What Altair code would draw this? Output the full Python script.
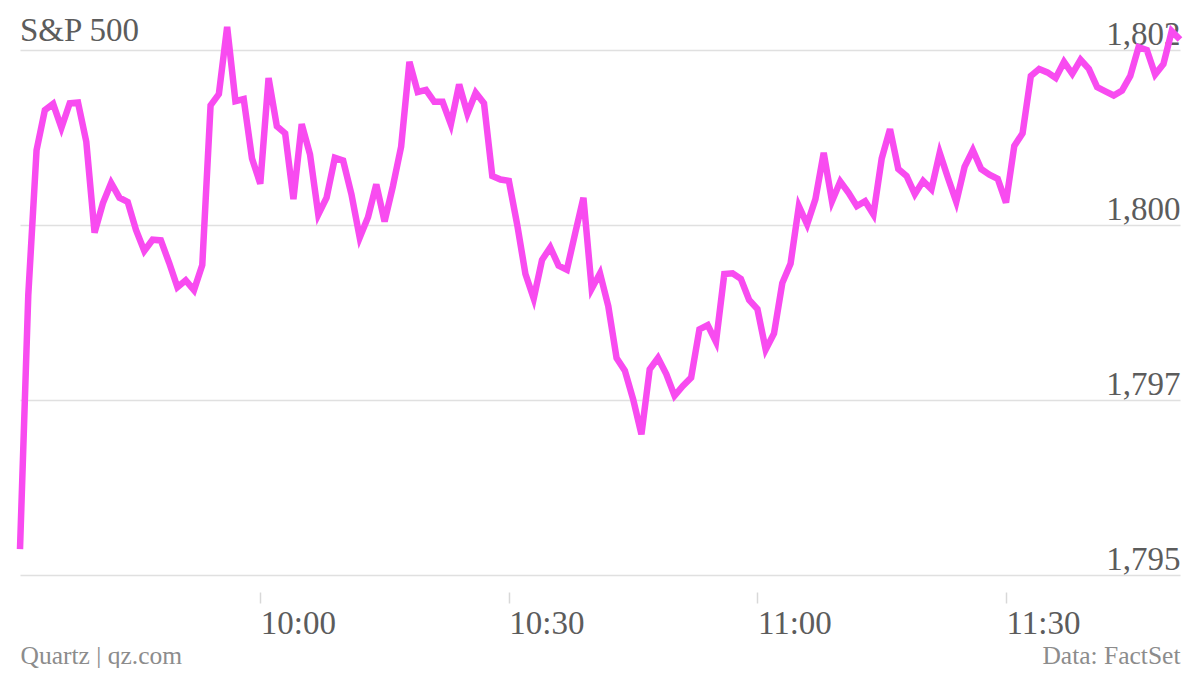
import altair as alt
import pandas as pd

# S&P 500 intraday values, one per minute from 09:31 to 11:51
values = [
    1795.37, 1799.00, 1801.07, 1801.64, 1801.73, 1801.39, 1801.74, 1801.75, 1801.19, 1799.89,
    1800.31, 1800.60, 1800.39, 1800.33, 1799.93, 1799.63, 1799.79, 1799.78, 1799.46, 1799.11,
    1799.21, 1799.07, 1799.43, 1801.71, 1801.87, 1802.83, 1801.77, 1801.80, 1800.95, 1800.59,
    1802.10, 1801.41, 1801.31, 1800.37, 1801.44, 1801.01, 1800.15, 1800.39, 1800.96, 1800.92,
    1800.44, 1799.82, 1800.11, 1800.58, 1800.05, 1800.55, 1801.12, 1802.33, 1801.90, 1801.93,
    1801.76, 1801.76, 1801.44, 1802.01, 1801.59, 1801.89, 1801.74, 1800.70, 1800.65, 1800.63,
    1800.01, 1799.30, 1798.95, 1799.50, 1799.68, 1799.42, 1799.36, 1799.88, 1800.39, 1799.09,
    1799.31, 1798.84, 1798.10, 1797.92, 1797.51, 1797.01, 1797.94, 1798.10, 1797.87, 1797.56,
    1797.70, 1797.82, 1798.51, 1798.57, 1798.33, 1799.30, 1799.31, 1799.23, 1798.93, 1798.80,
    1798.22, 1798.45, 1799.17, 1799.45, 1800.27, 1800.01, 1800.37, 1801.03, 1800.34, 1800.62,
    1800.46, 1800.27, 1800.34, 1800.15, 1800.95, 1801.37, 1800.80, 1800.70, 1800.44, 1800.63,
    1800.51, 1801.03, 1800.67, 1800.33, 1800.83, 1801.07, 1800.80, 1800.72, 1800.66, 1800.32,
    1801.13, 1801.31, 1802.13, 1802.23, 1802.18, 1802.10, 1802.33, 1802.16, 1802.36, 1802.23,
    1801.97, 1801.91, 1801.85, 1801.92, 1802.13, 1802.54, 1802.50, 1802.15, 1802.30, 1802.77,
    1802.65,
]
start_time = "2013-11-25 09:31"
times = pd.date_range(start_time, periods=len(values), freq="min").strftime("%Y-%m-%dT%H:%M:00Z")

y_ticks = [1795, 1797.5, 1800, 1802.5]
x_ticks = [(10, 0), (10, 30), (11, 0), (11, 30)]
x_domain = [(9, 31), (11, 51)]

df = pd.DataFrame({"time": list(times), "value": values})


def dt(h, m):
    return alt.DateTime(year=2013, month=11, date=25, hours=h, minutes=m, utc=True)


FONT = "Liberation Serif"
LABEL = "#5c5c5c"
FOOT = "#8c8c8c"
GRID = "#e0e0e0"

chart = (
    alt.Chart(df)
    .mark_line(color="#f84bf0", strokeWidth=6.5)
    .encode(
        x=alt.X(
            "time:T",
            scale=alt.Scale(type="utc", domain=[dt(*x_domain[0]), dt(*x_domain[1])], nice=False),
            axis=alt.Axis(
                values=[dt(h, m) for h, m in x_ticks],
                labelExpr="utcFormat(datum.value, '%H:%M')",
                title="Data: FactSet",
                titleX=1160,
                titleY=71,
                titleAlign="right",
                titleBaseline="alphabetic",
                titleFont=FONT,
                titleFontSize=25.5,
                titleFontWeight="normal",
                titleColor=FOOT,
                grid=False,
                domain=False,
                ticks=True,
                tickSize=11,
                tickWidth=1.5,
                tickColor="#d8d8d8",
                offset=17,
                labelAlign="left",
                labelBaseline="alphabetic",
                labelPadding=30,
                labelFlush=False,
                labelFont=FONT,
                labelFontSize=33,
                labelColor=LABEL,
            ),
        ),
        y=alt.Y(
            "value:Q",
            scale=alt.Scale(domain=[1795, 1802.5], nice=False, zero=False),
            axis=alt.Axis(
                orient="right",
                values=y_ticks,
                labelExpr="format(floor(datum.value), ',')",
                title="Quartz | qz.com",
                titleAngle=0,
                titleX=-1160,
                titleY=613,
                titleAlign="left",
                titleBaseline="alphabetic",
                titleFont=FONT,
                titleFontSize=25.5,
                titleFontWeight="normal",
                titleColor=FOOT,
                grid=True,
                gridColor=GRID,
                gridWidth=1.5,
                domain=False,
                ticks=False,
                tickSize=0,
                labelAlign="right",
                labelBaseline="alphabetic",
                labelPadding=0,
                labelOffset=-6,
                labelFont=FONT,
                labelFontSize=33,
                labelColor=LABEL,
            ),
        ),
    )
    .properties(
        width=1160,
        height=525,
        padding={"left": 12, "top": 42, "right": 12, "bottom": 93},
        autosize=alt.AutoSizeParams(type="none"),
        title=alt.TitleParams(
            "S&P 500",
            anchor="start",
            frame="group",
            font=FONT,
            fontSize=33,
            fontWeight="normal",
            color=LABEL,
            baseline="alphabetic",
            offset=0,
            dy=60,
        ),
        background="white",
    )
    .configure_view(stroke=None)
)

chart.save("out.html", embed_options={"renderer": "svg", "actions": False})
